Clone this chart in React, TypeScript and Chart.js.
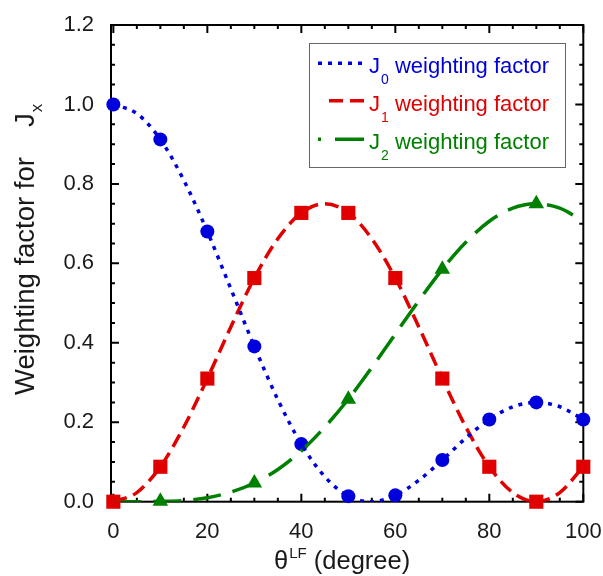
import React, { useEffect, useRef } from 'react';
import { Chart, registerables } from 'chart.js';

Chart.register(...registerables);

// ---- data ----
const curveAngles = [0, 5, 10, 15, 20, 25, 30, 35, 40, 45, 50, 55, 60, 65, 70, 75, 80, 85, 90, 95, 100];
const j0Curve = [1.0, 0.977, 0.912, 0.809, 0.68, 0.536, 0.391, 0.257, 0.145, 0.063, 0.014, 0.0, 0.016, 0.054, 0.105, 0.16, 0.207, 0.239, 0.25, 0.239, 0.207];
const j1Curve = [0.0, 0.023, 0.088, 0.188, 0.31, 0.44, 0.563, 0.662, 0.727, 0.75, 0.727, 0.662, 0.563, 0.44, 0.31, 0.188, 0.088, 0.023, 0.0, 0.023, 0.088];
const j2Curve = [0.0, 0.0, 0.001, 0.003, 0.01, 0.024, 0.047, 0.081, 0.128, 0.188, 0.258, 0.338, 0.422, 0.506, 0.585, 0.653, 0.706, 0.739, 0.75, 0.739, 0.706];

const markerAngles = [0, 10, 20, 30, 40, 50, 60, 70, 80, 90, 100];
const j0Markers = [1.0, 0.912, 0.68, 0.391, 0.145, 0.014, 0.016, 0.105, 0.207, 0.25, 0.207];
const j1Markers = [0.0, 0.088, 0.31, 0.563, 0.727, 0.727, 0.563, 0.31, 0.088, 0.0, 0.088];
const j2MarkerAngles = [10, 30, 50, 70, 90];
const j2Markers = [0.001, 0.047, 0.258, 0.585, 0.75];

const xTickValues = [0, 20, 40, 60, 80, 100];
const yTickValues = [0, 0.2, 0.4, 0.6, 0.8, 1.0, 1.2];

const legendSubscripts = ['0', '1', '2'];
const legendText = ' weighting factor';
const yTitleMain = 'Weighting factor for';
const yTitleSymbol = 'J';
const yTitleSub = 'x';
const xTitleSymbol = 'θ';
const xTitleSup = 'LF';
const xTitleRest = ' (degree)';

const BLUE = '#0000dd';
const RED = '#e00000';
const GREEN = '#008000';
const FONT = '"Liberation Sans", Arial, Helvetica, sans-serif';

const pts = (xs: number[], ys: number[]) => xs.map((x, i) => ({ x, y: ys[i] }));

const framePlugin = {
  id: 'frame',
  beforeDatasetsDraw(chart: any) {
    const { ctx, chartArea: a, scales } = chart;
    const xs = scales.x;
    const ys = scales.y;
    ctx.save();
    ctx.strokeStyle = '#000';
    ctx.lineWidth = 2;
    ctx.strokeRect(a.left, a.top, a.right - a.left, a.bottom - a.top);
    ctx.beginPath();
    for (let i = 0; i <= 20; i++) {
      const v = i * 5;
      const len = i % 4 === 0 ? 8 : 4;
      const px = xs.getPixelForValue(v);
      ctx.moveTo(px, a.bottom);
      ctx.lineTo(px, a.bottom - len);
      ctx.moveTo(px, a.top);
      ctx.lineTo(px, a.top + len);
    }
    for (let i = 0; i <= 24; i++) {
      const v = i * 0.05;
      const len = i % 4 === 0 ? 8 : 4;
      const py = ys.getPixelForValue(v);
      ctx.moveTo(a.left, py);
      ctx.lineTo(a.left + len, py);
      ctx.moveTo(a.right, py);
      ctx.lineTo(a.right - len, py);
    }
    ctx.stroke();
    ctx.restore();
  },
};

const textPlugin = {
  id: 'texts',
  afterDraw(chart: any) {
    const { ctx } = chart;
    ctx.save();
    ctx.textBaseline = 'alphabetic';
    ctx.textAlign = 'left';

    // x title
    ctx.fillStyle = '#1a1a1a';
    let x = 274;
    const by = 569;
    ctx.font = `25.5px ${FONT}`;
    ctx.fillText(xTitleSymbol, x, by);
    x += ctx.measureText(xTitleSymbol).width + 1;
    ctx.font = `15px ${FONT}`;
    ctx.fillText(xTitleSup, x, by - 11);
    x += ctx.measureText(xTitleSup).width;
    ctx.font = `25.5px ${FONT}`;
    ctx.fillText(xTitleRest, x, by);

    // y title
    ctx.save();
    ctx.translate(33.5, 395);
    ctx.rotate(-Math.PI / 2);
    ctx.font = `27.5px ${FONT}`;
    ctx.fillText(yTitleMain, 0, 0);
    const jStart = 395 - 127;
    ctx.fillText(yTitleSymbol, jStart, 0);
    const jw = ctx.measureText(yTitleSymbol).width;
    ctx.font = `17px ${FONT}`;
    ctx.fillText(yTitleSub, jStart + jw + 1, 8);
    ctx.restore();

    // legend
    const L = 309.5, T = 43.5, R = 565.5, B = 167.5;
    ctx.fillStyle = '#fff';
    ctx.fillRect(L, T, R - L, B - T);
    ctx.strokeStyle = '#666';
    ctx.lineWidth = 1;
    ctx.strokeRect(L, T, R - L, B - T);

    const rows = [
      { color: BLUE, base: 73.3, dash: [4, 6], offset: 0, x0: 318, x1: 366 },
      { color: RED, base: 110.7, dash: [14, 7], offset: 0, x0: 329, x1: 364 },
      { color: GREEN, base: 149.3, dash: [29, 14], offset: 26, x0: 318, x1: 366 },
    ];
    rows.forEach((r, i) => {
      ctx.save();
      ctx.strokeStyle = r.color;
      ctx.lineWidth = 3.5;
      ctx.setLineDash(r.dash);
      ctx.lineDashOffset = r.offset;
      ctx.beginPath();
      ctx.moveTo(r.x0, r.base - 10);
      ctx.lineTo(r.x1, r.base - 10);
      ctx.stroke();
      ctx.restore();

      ctx.fillStyle = r.color;
      let tx = 369;
      ctx.font = `22px ${FONT}`;
      ctx.fillText('J', tx, r.base);
      tx += ctx.measureText('J').width + 1;
      ctx.font = `14px ${FONT}`;
      ctx.fillText(legendSubscripts[i], tx, r.base + 11);
      tx += ctx.measureText(legendSubscripts[i]).width;
      ctx.font = `22px ${FONT}`;
      ctx.fillText(legendText, tx, r.base);
    });
    ctx.restore();
  },
};

export default function App() {
  const canvasRef = useRef<HTMLCanvasElement | null>(null);

  useEffect(() => {
    if (!canvasRef.current) return;
    const chart = new Chart(canvasRef.current, {
      type: 'line',
      data: {
        datasets: [
          {
            data: pts(curveAngles, j0Curve),
            borderColor: BLUE,
            borderWidth: 3.5,
            borderDash: [4, 6],
            pointRadius: 0,
            cubicInterpolationMode: 'monotone',
            fill: false,
          },
          {
            data: pts(curveAngles, j1Curve),
            borderColor: RED,
            borderWidth: 3.5,
            borderDash: [14, 7],
            pointRadius: 0,
            cubicInterpolationMode: 'monotone',
            fill: false,
          },
          {
            data: pts(curveAngles, j2Curve),
            borderColor: GREEN,
            borderWidth: 3.5,
            borderDash: [28, 12],
            pointRadius: 0,
            cubicInterpolationMode: 'monotone',
            fill: false,
          },
          {
            data: pts(markerAngles, j0Markers),
            showLine: false,
            pointStyle: 'circle',
            pointRadius: 7,
            pointBackgroundColor: BLUE,
            pointBorderColor: BLUE,
            pointBorderWidth: 0,
            clip: false,
          },
          {
            data: pts(markerAngles, j1Markers),
            showLine: false,
            pointStyle: 'rect',
            pointRadius: 10,
            pointBackgroundColor: RED,
            pointBorderColor: RED,
            pointBorderWidth: 0,
            clip: false,
          },
          {
            data: pts(j2MarkerAngles, j2Markers),
            showLine: false,
            pointStyle: 'triangle',
            pointRadius: 9,
            pointBackgroundColor: GREEN,
            pointBorderColor: GREEN,
            pointBorderWidth: 0,
            clip: false,
          },
        ] as any,
      },
      options: {
        animation: false,
        responsive: false,
        devicePixelRatio: 1,
        layout: { padding: { left: 0, top: 25, right: 19.7, bottom: 0 } },
        plugins: { legend: { display: false }, tooltip: { enabled: false } },
        scales: {
          x: {
            type: 'linear',
            min: -0.5,
            max: 100,
            grid: { display: false },
            border: { display: false },
            afterBuildTicks: (axis: any) => {
              axis.ticks = xTickValues.map((v) => ({ value: v }));
            },
            afterFit: (axis: any) => {
              axis.height = 74.3;
              axis.paddingLeft = 0;
              axis.paddingRight = 0;
            },
            ticks: {
              padding: 9,
              color: '#1a1a1a',
              font: { family: FONT, size: 22 },
              maxRotation: 0,
              callback: (v: any) => String(v),
            },
          },
          y: {
            type: 'linear',
            min: 0,
            max: 1.2,
            grid: { display: false },
            border: { display: false },
            afterBuildTicks: (axis: any) => {
              axis.ticks = yTickValues.map((v) => ({ value: v }));
            },
            afterFit: (axis: any) => {
              axis.width = 111;
              axis.paddingTop = 0;
              axis.paddingBottom = 0;
            },
            ticks: {
              padding: 9,
              color: '#1a1a1a',
              font: { family: FONT, size: 22 },
              callback: (v: any) => Number(v).toFixed(1),
            },
          },
        },
      } as any,
      plugins: [framePlugin, textPlugin],
    });
    return () => chart.destroy();
  }, []);

  return (
    <div style={{ position: 'absolute', left: 0, top: 0, width: 603, height: 576, background: '#fff' }}>
      <canvas ref={canvasRef} width={603} height={576} />
    </div>
  );
}
